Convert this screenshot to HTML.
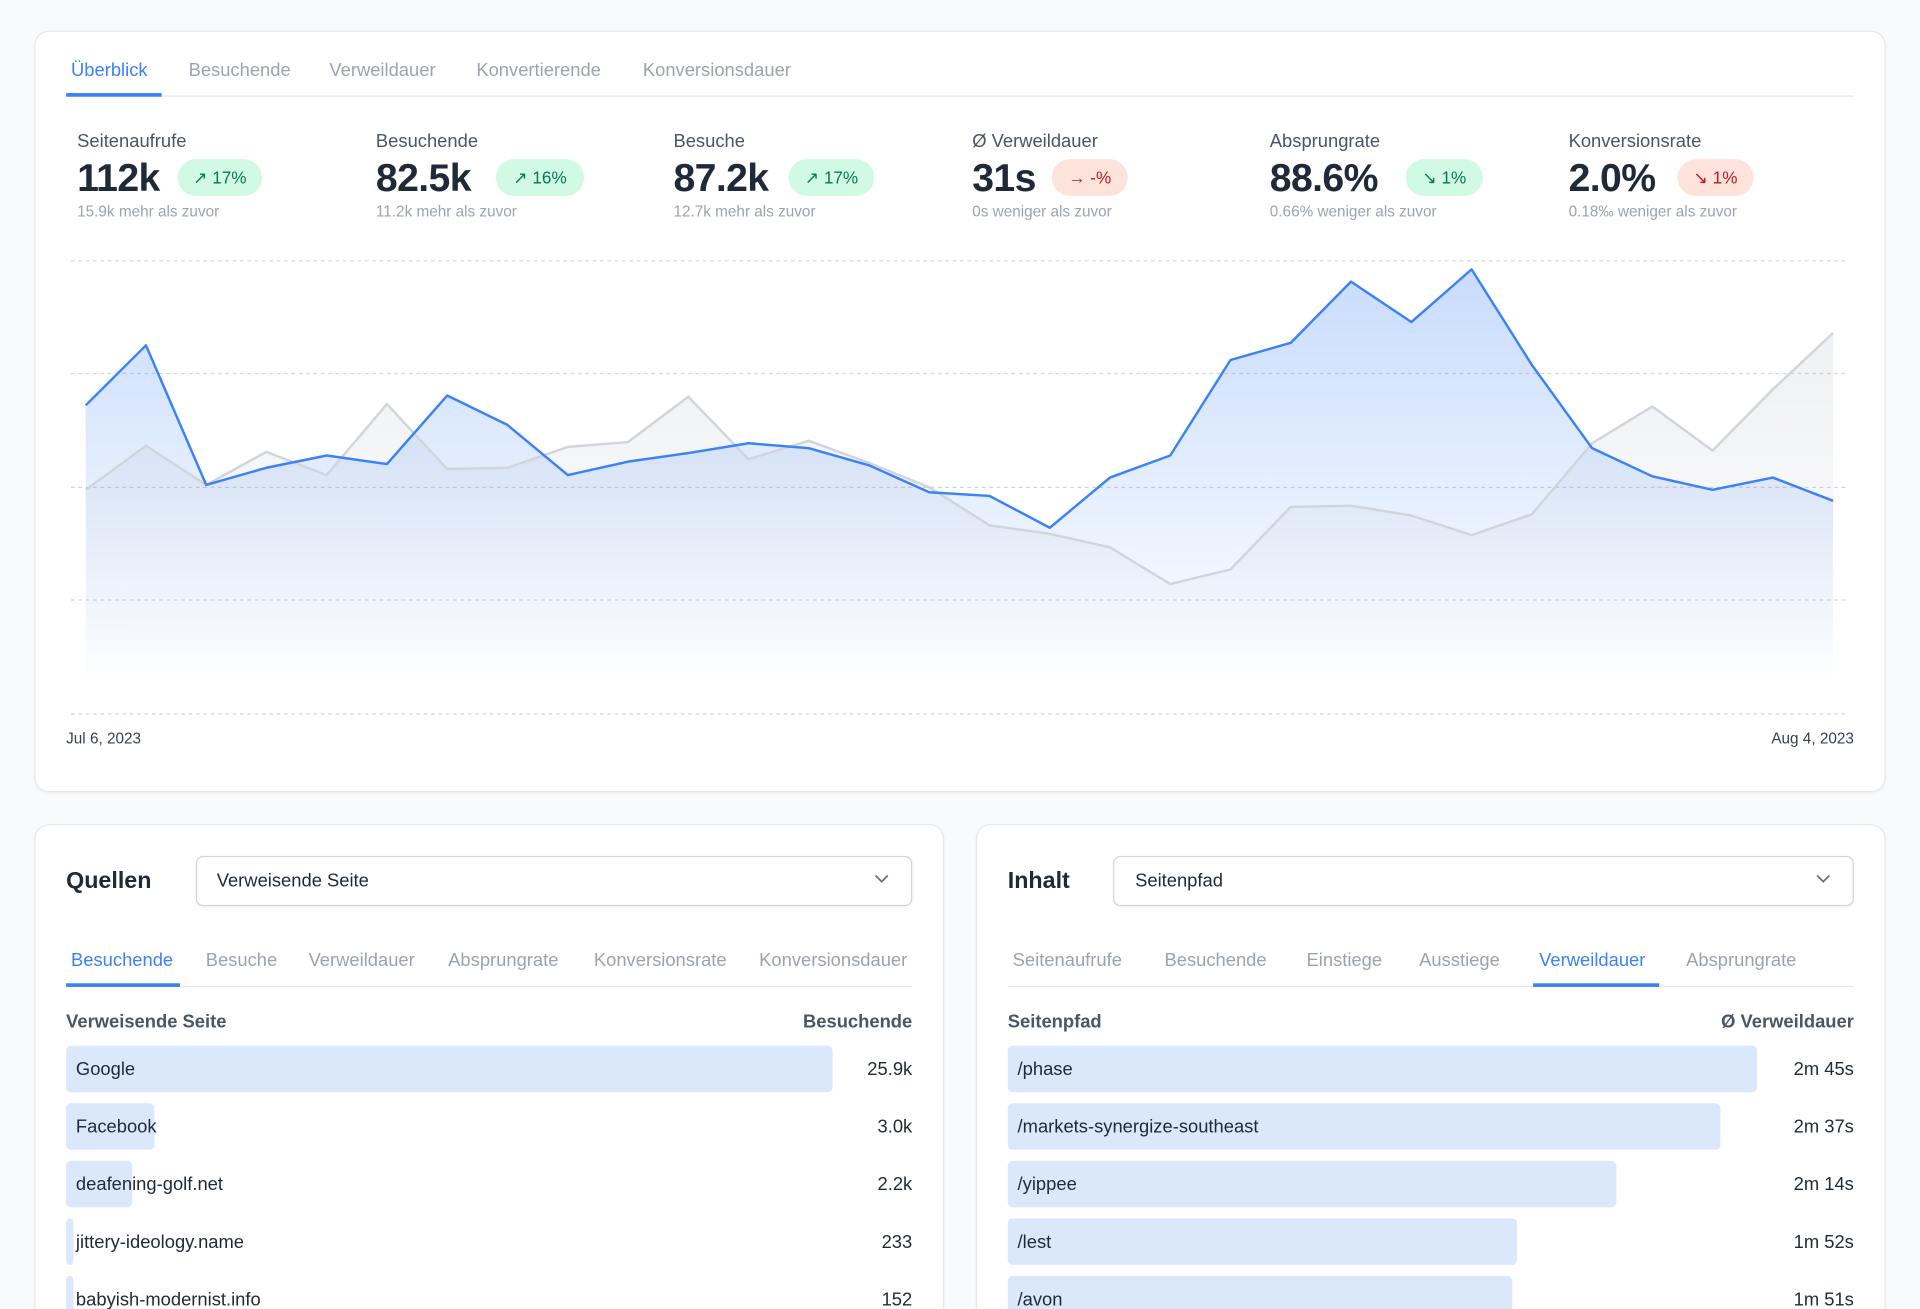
<!DOCTYPE html>
<html><head><meta charset="utf-8"><style>
*{box-sizing:border-box;margin:0;padding:0}
html,body{width:1920px;height:1309px;overflow:hidden;background:#f9fafb;font-family:"Liberation Sans",sans-serif}
#w{position:absolute;left:0;top:0;width:1568px;height:1069px;transform:scale(1.22449);transform-origin:0 0;overflow:hidden}
.card{position:absolute;background:#fff;border:1px solid #e5e7eb;border-radius:12px;box-shadow:0 1px 2px rgba(0,0,0,.04)}
.a{position:absolute;white-space:nowrap}
.tab{font-size:15px;color:#9ca3af}
.act{color:#3b82f6}
.lbl{font-size:15px;color:#4b5563}
.val{font-size:32px;font-weight:bold;color:#1f2937;letter-spacing:-0.5px}
.sub{font-size:12.5px;color:#9ca3af}
.bd{position:absolute;height:30px;border-radius:15px;font-size:14px;line-height:30px;text-align:center}
.g{background:#d1fae5;color:#047857}.r{background:#fee2dc;color:#b91c1c}
.bar{position:absolute;height:38px;background:#dbe8fc;border-radius:4px}
.rt{font-size:15px;color:#1f2937}
.sel{position:absolute;height:41px;border:1px solid #d1d5db;border-radius:6px;box-shadow:0 1px 2px rgba(0,0,0,.05)}
</style></head><body><div id="w">
<div class="card" style="left:28px;top:25px;width:1512px;height:622px"></div>
<div class="a" style="left:54px;top:78px;width:1460px;height:1px;background:#e5e7eb"></div>
<div class="a" style="left:54px;top:76px;width:78px;height:3px;background:#3b82f6"></div>
<div class="a tab act" style="left:58px;top:49px">Überblick</div>
<div class="a tab" style="left:154px;top:49px">Besuchende</div>
<div class="a tab" style="left:269px;top:49px">Verweildauer</div>
<div class="a tab" style="left:389px;top:49px">Konvertierende</div>
<div class="a tab" style="left:525px;top:49px">Konversionsdauer</div>

<div class="a lbl" style="left:63px;top:107px">Seitenaufrufe</div><div class="a val" style="left:63px;top:127px">112k</div><div class="bd g" style="left:145px;top:130px;width:69px">↗ 17%</div><div class="a sub" style="left:63px;top:166px">15.9k mehr als zuvor</div>
<div class="a lbl" style="left:307px;top:107px">Besuchende</div><div class="a val" style="left:307px;top:127px">82.5k</div><div class="bd g" style="left:405px;top:130px;width:72px">↗ 16%</div><div class="a sub" style="left:307px;top:166px">11.2k mehr als zuvor</div>
<div class="a lbl" style="left:550px;top:107px">Besuche</div><div class="a val" style="left:550px;top:127px">87.2k</div><div class="bd g" style="left:644px;top:130px;width:70px">↗ 17%</div><div class="a sub" style="left:550px;top:166px">12.7k mehr als zuvor</div>
<div class="a lbl" style="left:794px;top:107px">Ø Verweildauer</div><div class="a val" style="left:794px;top:127px">31s</div><div class="bd r" style="left:859px;top:130px;width:62px">→ -%</div><div class="a sub" style="left:794px;top:166px">0s weniger als zuvor</div>
<div class="a lbl" style="left:1037px;top:107px">Absprungrate</div><div class="a val" style="left:1037px;top:127px">88.6%</div><div class="bd g" style="left:1148px;top:130px;width:63px">↘ 1%</div><div class="a sub" style="left:1037px;top:166px">0.66% weniger als zuvor</div>
<div class="a lbl" style="left:1281px;top:107px">Konversionsrate</div><div class="a val" style="left:1281px;top:127px">2.0%</div><div class="bd r" style="left:1370px;top:130px;width:62px">↘ 1%</div><div class="a sub" style="left:1281px;top:166px">0.18‰ weniger als zuvor</div>

<svg class="a" style="left:0;top:0" width="1568" height="650">
<defs><linearGradient id="bg" gradientUnits="userSpaceOnUse" x1="0" y1="220" x2="0" y2="560"><stop offset="0" stop-color="#3b82f6" stop-opacity=".28"/><stop offset="1" stop-color="#3b82f6" stop-opacity="0"/></linearGradient>
<linearGradient id="gg" gradientUnits="userSpaceOnUse" x1="0" y1="270" x2="0" y2="560"><stop offset="0" stop-color="#9ca3af" stop-opacity=".16"/><stop offset="1" stop-color="#9ca3af" stop-opacity="0"/></linearGradient></defs>
<g stroke="#d1d5db" stroke-dasharray="3 3" stroke-width="1"><line x1="58" x2="1508" y1="213" y2="213"/><line x1="58" x2="1508" y1="305" y2="305"/><line x1="58" x2="1508" y1="398" y2="398"/><line x1="58" x2="1508" y1="490" y2="490"/><line x1="58" x2="1508" y1="583" y2="583"/></g>
<path fill="url(#gg)" d="M70,560 L70,400 119.2,364 168.4,396 217.6,369 266.8,388 316,330 365.2,383 414.4,382 463.7,365 512.9,361 562.1,324 611.3,375 660.5,360 709.7,378 758.9,398 808.1,429 857.3,436 906.5,447 955.7,477 1004.9,465 1054.1,414 1103.3,413 1152.6,421 1201.8,437 1251,420 1300.2,362 1349.4,332 1398.6,368 1447.8,318 1497,272 L1497,560Z"/>
<path fill="url(#bg)" d="M70,560 L70,331 119.2,282 168.4,396 217.6,382 266.8,372 316,379 365.2,323 414.4,347 463.7,388 512.9,377 562.1,370 611.3,362 660.5,366 709.7,380 758.9,402 808.1,405 857.3,431 906.5,390 955.7,372 1004.9,294 1054.1,280 1103.3,230 1152.6,263 1201.8,220 1251,298 1300.2,366 1349.4,389 1398.6,400 1447.8,390 1497,409 L1497,560Z"/>
<polyline fill="none" stroke="#d1d5db" stroke-width="2" points="70,400 119.2,364 168.4,396 217.6,369 266.8,388 316,330 365.2,383 414.4,382 463.7,365 512.9,361 562.1,324 611.3,375 660.5,360 709.7,378 758.9,398 808.1,429 857.3,436 906.5,447 955.7,477 1004.9,465 1054.1,414 1103.3,413 1152.6,421 1201.8,437 1251,420 1300.2,362 1349.4,332 1398.6,368 1447.8,318 1497,272"/>
<polyline fill="none" stroke="#3b82f6" stroke-width="2" stroke-linejoin="round" points="70,331 119.2,282 168.4,396 217.6,382 266.8,372 316,379 365.2,323 414.4,347 463.7,388 512.9,377 562.1,370 611.3,362 660.5,366 709.7,380 758.9,402 808.1,405 857.3,431 906.5,390 955.7,372 1004.9,294 1054.1,280 1103.3,230 1152.6,263 1201.8,220 1251,298 1300.2,366 1349.4,389 1398.6,400 1447.8,390 1497,409"/>
</svg>
<div class="a" style="left:54px;top:596px;font-size:12.5px;color:#374151">Jul 6, 2023</div>
<div class="a" style="right:54px;top:596px;font-size:12.5px;color:#374151">Aug 4, 2023</div>

<!-- left card -->
<div class="card" style="left:28px;top:673px;width:743px;height:460px"></div>
<div class="a" style="left:54px;top:709px;font-size:19px;font-weight:bold;color:#1f2937">Quellen</div>
<div class="sel" style="left:160px;top:699px;width:585px"></div>
<div class="a" style="left:177px;top:711px;font-size:15px;color:#1f2937">Verweisende Seite</div>
<svg class="a" style="left:714px;top:713px" width="12" height="10"><polyline points="1,2 6,7 11,2" fill="none" stroke="#6b7280" stroke-width="1.5"/></svg>
<div class="a" style="left:54px;top:805px;width:691px;height:1px;background:#e5e7eb"></div>
<div class="a" style="left:54px;top:803px;width:93px;height:3px;background:#3b82f6"></div>
<div class="a" style="left:54px;top:776px;width:691px;height:22px;overflow:hidden">
<div class="a tab act" style="left:4px;top:0">Besuchende</div><div class="a tab" style="left:114px">Besuche</div><div class="a tab" style="left:198px;width:92px;overflow:hidden">Verweildauer</div><div class="a tab" style="left:312px;width:98px;overflow:hidden">Absprungrate</div><div class="a tab" style="left:431px;width:114px;overflow:hidden">Konversionsrate</div><div class="a tab" style="left:566px">Konversionsdauer</div></div>
<div class="a" style="left:54px;top:826px;font-size:15px;font-weight:bold;color:#4b5563">Verweisende Seite</div>
<div class="a" style="right:823px;top:826px;font-size:15px;font-weight:bold;color:#4b5563">Besuchende</div>
<div class="bar" style="left:54px;top:854px;width:626px"></div><div class="bar" style="left:54px;top:901px;width:72px"></div><div class="bar" style="left:54px;top:948px;width:54px"></div><div class="bar" style="left:54px;top:995px;width:6px"></div><div class="bar" style="left:54px;top:1042px;width:6px"></div>
<div class="a rt" style="left:62px;top:865px">Google</div><div class="a rt" style="right:823px;top:865px">25.9k</div>
<div class="a rt" style="left:62px;top:912px">Facebook</div><div class="a rt" style="right:823px;top:912px">3.0k</div>
<div class="a rt" style="left:62px;top:959px">deafening-golf.net</div><div class="a rt" style="right:823px;top:959px">2.2k</div>
<div class="a rt" style="left:62px;top:1006px">jittery-ideology.name</div><div class="a rt" style="right:823px;top:1006px">233</div>
<div class="a rt" style="left:62px;top:1053px">babyish-modernist.info</div><div class="a rt" style="right:823px;top:1053px">152</div>

<!-- right card -->
<div class="card" style="left:797px;top:673px;width:743px;height:460px"></div>
<div class="a" style="left:823px;top:709px;font-size:19px;font-weight:bold;color:#1f2937">Inhalt</div>
<div class="sel" style="left:909px;top:699px;width:605px"></div>
<div class="a" style="left:927px;top:711px;font-size:15px;color:#1f2937">Seitenpfad</div>
<svg class="a" style="left:1483px;top:713px" width="12" height="10"><polyline points="1,2 6,7 11,2" fill="none" stroke="#6b7280" stroke-width="1.5"/></svg>
<div class="a" style="left:823px;top:805px;width:691px;height:1px;background:#e5e7eb"></div>
<div class="a" style="left:1252px;top:803px;width:103px;height:3px;background:#3b82f6"></div>
<div class="a tab" style="left:827px;top:776px">Seitenaufrufe</div><div class="a tab" style="left:951px;top:776px">Besuchende</div><div class="a tab" style="left:1067px;top:776px">Einstiege</div><div class="a tab" style="left:1159px;top:776px">Ausstiege</div><div class="a tab act" style="left:1257px;top:776px">Verweildauer</div><div class="a tab" style="left:1377px;top:776px">Absprungrate</div>
<div class="a" style="left:823px;top:826px;font-size:15px;font-weight:bold;color:#4b5563">Seitenpfad</div>
<div class="a" style="right:54px;top:826px;font-size:15px;font-weight:bold;color:#4b5563">Ø Verweildauer</div>
<div class="bar" style="left:823px;top:854px;width:612px"></div><div class="bar" style="left:823px;top:901px;width:582px"></div><div class="bar" style="left:823px;top:948px;width:497px"></div><div class="bar" style="left:823px;top:995px;width:416px"></div><div class="bar" style="left:823px;top:1042px;width:412px"></div>
<div class="a rt" style="left:831px;top:865px">/phase</div><div class="a rt" style="right:54px;top:865px">2m 45s</div>
<div class="a rt" style="left:831px;top:912px">/markets-synergize-southeast</div><div class="a rt" style="right:54px;top:912px">2m 37s</div>
<div class="a rt" style="left:831px;top:959px">/yippee</div><div class="a rt" style="right:54px;top:959px">2m 14s</div>
<div class="a rt" style="left:831px;top:1006px">/lest</div><div class="a rt" style="right:54px;top:1006px">1m 52s</div>
<div class="a rt" style="left:831px;top:1053px">/avon</div><div class="a rt" style="right:54px;top:1053px">1m 51s</div>
</div></body></html>
